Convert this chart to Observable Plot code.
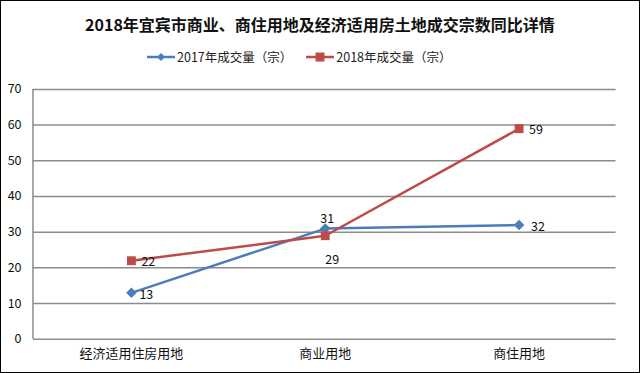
<!DOCTYPE html>
<html>
<head>
<meta charset="utf-8">
<script src="https://cdn.jsdelivr.net/npm/d3@7"></script>
<script src="https://cdn.jsdelivr.net/npm/@observablehq/plot@0.6"></script>
<style>
  html, body { margin: 0; padding: 0; background: #fff; }
  #wrap { position: relative; width: 640px; height: 373px; box-sizing: border-box; border: 1.5px solid #000; overflow: hidden; font-family: "Noto Sans CJK SC", sans-serif; }
  #title { position: absolute; left: 0; top: 11px; width: 100%; text-align: center; font-weight: bold; font-size: 16px; color: #111; line-height: 24px; }
  #legend { position: absolute; left: 146px; top: 46px; display: flex; font-size: 12.5px; color: #222; line-height: 20px; }
  .item { display: flex; align-items: center; margin-right: 14px; }
  .item svg { margin-right: 2px; }
  #chart { position: absolute; left: -1.5px; top: -1.5px; }
</style>
</head>
<body>
<div id="wrap">
  <div id="title"></div>
  <div id="legend"></div>
  <div id="chart"></div>
</div>
<script>
const title = "2018年宜宾市商业、商住用地及经济适用房土地成交宗数同比详情";
const categories = ["经济适用住房用地", "商业用地", "商住用地"];
const seriesNames = ["2017年成交量（宗）", "2018年成交量（宗）"];
const values2017 = [13, 31, 32];
const values2018 = [22, 29, 59];
const yTicks = [0, 10, 20, 30, 40, 50, 60, 70];

const colors = ["#4a7ebb", "#be4b48"];
// label offsets (style only)
const labelDx2017 = [8, 2, 12];
const labelDy2017 = [2, -10, 2];
const labelDx2018 = [10, 7, 10];
const labelDy2018 = [1, 24, 1];

document.getElementById("title").textContent = title;

const legend = document.getElementById("legend");
seriesNames.forEach((name, i) => {
  const item = document.createElement("div");
  item.className = "item";
  const marker = i === 0
    ? `<path d="M14,2 L18,6 L14,10 L10,6 Z" fill="${colors[i]}"/>`
    : `<rect x="9.5" y="1.5" width="9" height="9" fill="${colors[i]}"/>`;
  item.innerHTML = `<svg width="28" height="12"><line x1="0" x2="28" y1="6" y2="6" stroke="${colors[i]}" stroke-width="2.5"/>${marker}</svg><span>${name}</span>`;
  legend.appendChild(item);
});

const d17 = categories.map((c, i) => ({cat: c, v: values2017[i], i}));
const d18 = categories.map((c, i) => ({cat: c, v: values2018[i], i}));

const labelMarks = (data, dxs, dys, anchors) => data.map((d, k) =>
  Plot.text([d], {x: "cat", y: "v", text: d => String(d.v), dx: dxs[k], dy: dys[k],
    textAnchor: anchors[k], fontSize: 12.5, fill: "#111"}));

const chart = Plot.plot({
  width: 640,
  height: 373,
  marginLeft: 33,
  marginRight: 24,
  marginTop: 89,
  marginBottom: 34,
  style: {fontFamily: "'Noto Sans CJK SC', sans-serif", background: "transparent", overflow: "visible"},
  x: {type: "point", domain: categories, padding: 0.5, label: null, tickSize: 0, tickPadding: 10},
  y: {domain: [0, 70], ticks: yTicks, label: null, tickSize: 0, tickPadding: 12},
  marks: [
    Plot.ruleY(yTicks, {stroke: "#8c8c8c", strokeWidth: 1.5}),
    Plot.axisY({ticks: yTicks, tickSize: 0, tickPadding: 12, fontSize: 12.5, fill: "#111", label: null}),
    Plot.axisX({tickSize: 0, tickPadding: 10, fontSize: 13, fill: "#111", label: null}),
    Plot.line(d17, {x: "cat", y: "v", stroke: colors[0], strokeWidth: 2.5}),
    Plot.line(d18, {x: "cat", y: "v", stroke: colors[1], strokeWidth: 2.5}),
    Plot.dot(d17, {x: "cat", y: "v", symbol: "square", r: 4.2, rotate: 45, fill: colors[0]}),
    Plot.dot(d18, {x: "cat", y: "v", symbol: "square", r: 5, fill: colors[1]}),
    ...labelMarks(d17, labelDx2017, labelDy2017, ["start", "middle", "start"]),
    ...labelMarks(d18, labelDx2018, labelDy2018, ["start", "middle", "start"])
  ]
});

// left axis line drawn along plot frame
const svg = d3.select(chart);
svg.append("line").attr("x1", 33).attr("x2", 33).attr("y1", 89).attr("y2", 339)
  .attr("stroke", "#8c8c8c").attr("stroke-width", 1.5);

document.getElementById("chart").appendChild(chart);
</script>
</body>
</html>
